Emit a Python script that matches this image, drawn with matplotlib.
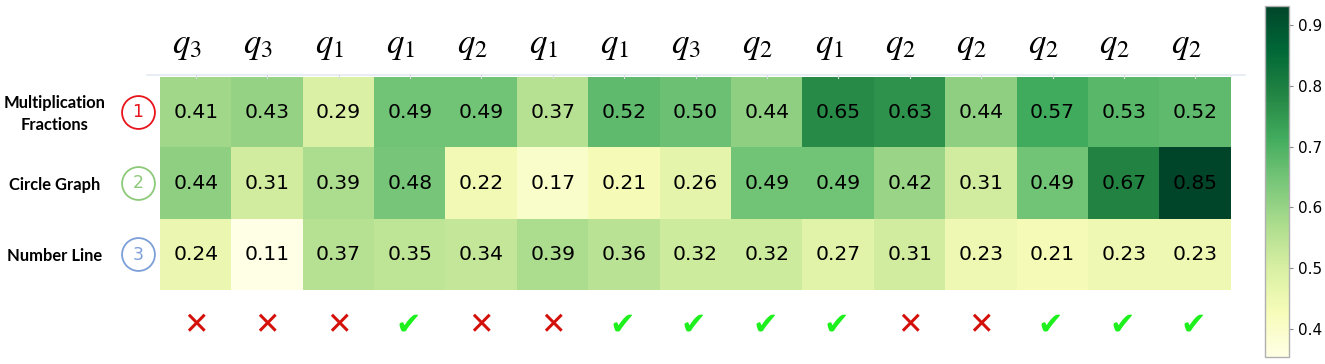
import matplotlib
matplotlib.use("Agg")
import matplotlib.pyplot as plt
import numpy as np
from matplotlib.colors import Normalize
from matplotlib.cm import ScalarMappable

plt.rcParams['mathtext.fontset'] = 'stix'

row_labels = ["Multiplication\nFractions", "Circle Graph", "Number Line"]
row_numbers = ["1", "2", "3"]
row_colors = ["#e8141b", "#8ec97a", "#7c9fd8"]
col_labels = ["q_3", "q_3", "q_1", "q_1", "q_2", "q_1", "q_1", "q_3", "q_2",
              "q_1", "q_2", "q_2", "q_2", "q_2", "q_2"]
row1 = [0.41, 0.43, 0.29, 0.49, 0.49, 0.37, 0.52, 0.50, 0.44, 0.65, 0.63, 0.44, 0.57, 0.53, 0.52]
row2 = [0.44, 0.31, 0.39, 0.48, 0.22, 0.17, 0.21, 0.26, 0.49, 0.49, 0.42, 0.31, 0.49, 0.67, 0.85]
row3 = [0.24, 0.11, 0.37, 0.35, 0.34, 0.39, 0.36, 0.32, 0.32, 0.27, 0.31, 0.23, 0.21, 0.23, 0.23]
correct = [0, 0, 0, 1, 0, 0, 1, 1, 1, 1, 0, 0, 1, 1, 1]
cbar_min, cbar_max = 0.354, 0.931
cbar_ticks = [0.4, 0.5, 0.6, 0.7, 0.8, 0.9]

data = np.array([row1, row2, row3])
nrows, ncols = data.shape

W, H = 1325, 364
fig = plt.figure(figsize=(W / 100, H / 100), dpi=100)

def px_axes(x0, y0, x1, y1):
    return fig.add_axes([x0 / W, 1 - y1 / H, (x1 - x0) / W, (y1 - y0) / H])

ax = px_axes(160, 77, 1231, 290)
ax.set_autoscale_on(False)
cmap = plt.get_cmap("YlGn")
ax.imshow(data, cmap=cmap, vmin=data.min(), vmax=data.max(), aspect="auto",
          interpolation="nearest", extent=(-0.5, ncols - 0.5, nrows - 0.5, -0.5))
for s in ax.spines.values():
    s.set_visible(False)
ax.set_xticks([])
ax.set_yticks([])

for i in range(nrows):
    for j in range(ncols):
        ax.text(j, i, f"{data[i, j]:.2f}", ha="center", va="center",
                fontsize=14.6, color="black")

# top faint line with small ticks
ax.plot([-0.68, ncols - 0.5 + 0.2], [-0.535, -0.535], color="#e4eaf2", lw=1.2,
        clip_on=False)
for j in range(ncols):
    ax.plot([j, j], [-0.535, -0.49], color="#d8dde4", lw=0.8, clip_on=False)

# column labels
for j, lab in enumerate(col_labels):
    ax.text(j - 0.13, -0.95, f"${lab}$", ha="center", va="center", fontsize=25,
            clip_on=False)

# row labels and circled numbers
for i, (lab, num, c) in enumerate(zip(row_labels, row_numbers, row_colors)):
    ax.text(-1.97, i + 0.02, lab, ha="center", va="center", fontsize=11.9,
            fontweight="bold", family="Lato", linespacing=1.5, clip_on=False)
    ax.scatter([-0.81], [i], s=560, facecolor="white", edgecolor=c, lw=1.3,
               clip_on=False, zorder=5)
    ax.text(-0.81, i, num, ha="center", va="center", fontsize=12.5, color=c,
            zorder=6, clip_on=False)

# correctness marks
for j, ok in enumerate(correct):
    if ok:
        ax.text(j - 0.03, 2.99, "\u2714", ha="center", va="center", fontsize=22,
                color="#1ef01e", family="DejaVu Sans", clip_on=False)
    else:
        ax.text(j, 3.01, "\u2715", ha="center", va="center", fontsize=22,
                color="#d4100a", family="DejaVu Sans", clip_on=False)

ax.set_xlim(-0.5, ncols - 0.5)
ax.set_ylim(nrows - 0.5, -0.5)

# colorbar
cax = px_axes(1265, 6, 1289, 357)
sm = ScalarMappable(norm=Normalize(cbar_min, cbar_max), cmap=cmap)
cb = fig.colorbar(sm, cax=cax, ticks=cbar_ticks)
cb.outline.set_edgecolor("#b0b0b0")
cb.outline.set_linewidth(1.0)
cax.tick_params(labelsize=11, length=3, color="#888888")
cax.set_yticklabels([f"{t:.1f}" for t in cbar_ticks])

fig.savefig("out.png", dpi=100, facecolor="white")
